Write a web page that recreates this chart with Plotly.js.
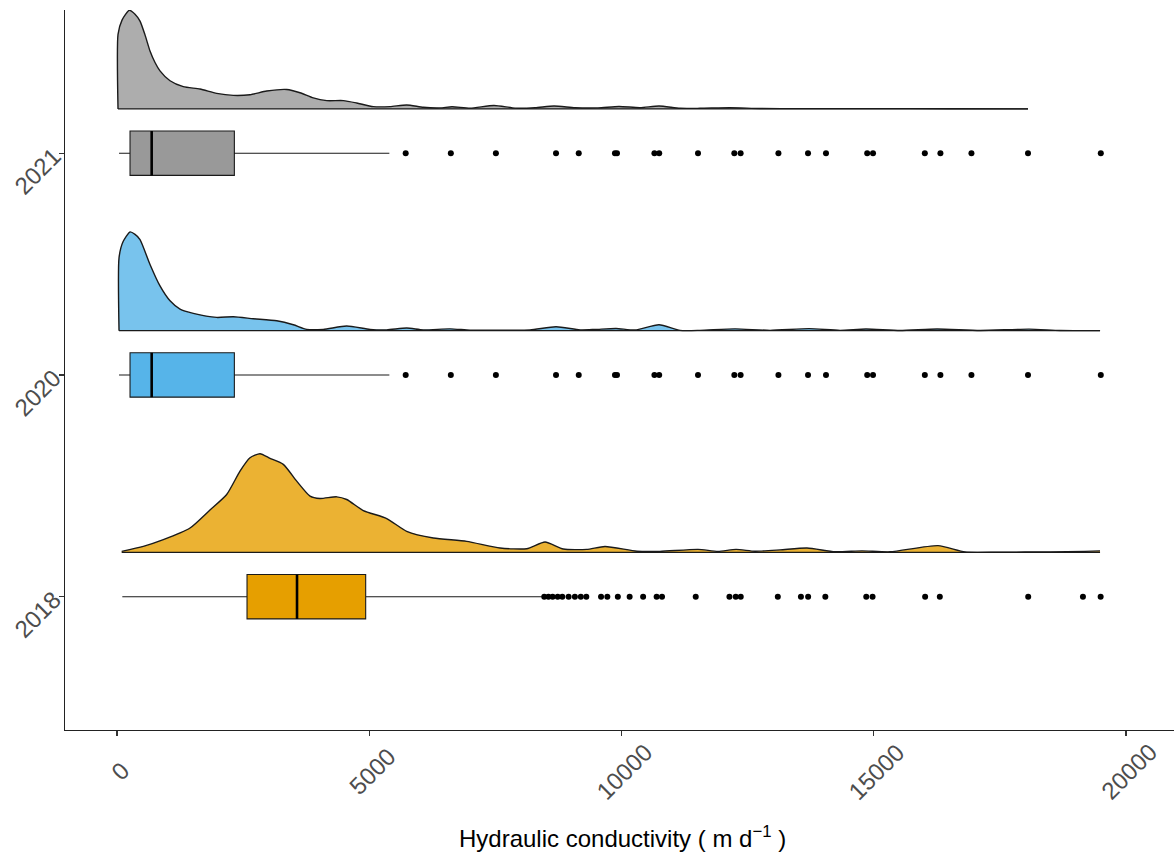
<!DOCTYPE html>
<html>
<head>
<meta charset="utf-8">
<script src="https://cdn.plot.ly/plotly-3.0.1.min.js"></script>
<style>html,body{margin:0;padding:0;background:#fff;}#chart{width:1174px;height:856px;}</style>
</head>
<body>
<div id="chart"></div>
<script>
// ---- Data ----
const groups = ['2018', '2020', '2021'];
const groupPos = [1, 2, 3];

// Density curves (x value, relative density height, peak = 1)
const dens2018X = [93, 521, 918, 1447, 1843, 2174, 2438, 2636, 2835, 3033, 3296, 3562, 3826, 4024, 4355, 4553, 4882, 5346, 5742, 6270, 6931, 7592, 8121, 8484, 8846, 9310, 9673, 10307, 10763, 11516, 11913, 12270, 12646, 13141, 13677, 14232, 14767, 15322, 16274, 16809, 17503, 18494, 19187, 19485];
const dens2018Y = [0.01, 0.061, 0.129, 0.247, 0.43, 0.587, 0.824, 0.959, 1.0, 0.953, 0.892, 0.722, 0.57, 0.546, 0.563, 0.536, 0.424, 0.343, 0.214, 0.146, 0.112, 0.044, 0.037, 0.105, 0.034, 0.03, 0.06, 0.012, 0.01, 0.03, 0.01, 0.03, 0.012, 0.025, 0.044, 0.006, 0.015, 0.006, 0.068, 0.004, 0.003, 0.004, 0.01, 0.015];

const dens2020X = [40, 40, 119, 258, 357, 456, 654, 852, 1051, 1249, 1512, 1976, 2305, 2702, 3166, 3495, 3760, 4089, 4553, 5015, 5346, 5742, 6071, 6601, 6997, 7592, 8186, 8702, 9178, 9475, 9891, 10268, 10743, 11160, 11556, 12250, 12944, 13717, 14331, 14846, 15520, 16254, 17106, 18077, 18692, 19485];
const dens2020Y = [0, 0.738, 0.9, 1.0, 0.975, 0.923, 0.671, 0.453, 0.302, 0.218, 0.175, 0.134, 0.141, 0.121, 0.10, 0.06, 0.013, 0.013, 0.047, 0.013, 0.008, 0.027, 0.008, 0.018, 0.005, 0.004, 0.006, 0.04, 0.008, 0.012, 0.022, 0.006, 0.06, 0.003, 0.003, 0.018, 0.003, 0.02, 0.003, 0.016, 0.002, 0.017, 0.002, 0.015, 0.002, 0.0];

const dens2021X = [20, 20, 99, 244, 357, 456, 555, 654, 753, 852, 1051, 1314, 1645, 1976, 2305, 2636, 2967, 3364, 3627, 3891, 4157, 4486, 4751, 5080, 5411, 5742, 6071, 6402, 6640, 7000, 7473, 7890, 8285, 8662, 9080, 9534, 9950, 10366, 10743, 11160, 11556, 12150, 12745, 13538, 14926, 16511, 18057];
const dens2021Y = [0, 0.755, 0.9, 1.0, 0.96, 0.89, 0.75, 0.587, 0.47, 0.386, 0.285, 0.225, 0.201, 0.157, 0.137, 0.144, 0.181, 0.197, 0.164, 0.111, 0.084, 0.084, 0.06, 0.023, 0.023, 0.04, 0.016, 0.01, 0.022, 0.008, 0.035, 0.008, 0.012, 0.03, 0.012, 0.01, 0.025, 0.012, 0.03, 0.006, 0.006, 0.012, 0.004, 0.003, 0.003, 0.002, 0.0];

// Box statistics: [lower whisker, Q1, median, Q3, upper whisker]
const box2018 = [105, 2577, 3568, 4929, 8418];
const box2020 = [40, 258, 687, 2326, 5398];
const box2021 = [40, 258, 687, 2326, 5398];

// Outliers
const out2018 = [8468, 8551, 8634, 8735, 8826, 8951, 9076, 9193, 9302, 9594, 9719, 9927, 10161, 10428, 10696, 10803, 11471, 12139, 12264, 12363, 13098, 13556, 13699, 14040, 14851, 14976, 16018, 16309, 18061, 19146, 19497];
const out2020 = [5722, 6617, 7510, 8702, 9152, 9870, 9910, 10652, 10747, 11516, 12236, 12361, 13110, 13697, 14053, 14870, 14985, 16012, 16321, 16936, 18057, 19500];
const out2021 = [5722, 6617, 7510, 8702, 9152, 9870, 9910, 10652, 10747, 11516, 12236, 12361, 13110, 13697, 14053, 14870, 14985, 16012, 16321, 16936, 18057, 19500];

const xTickVals = [0, 5000, 10000, 15000, 20000];
const xTickText = ['0', '5000', '10000', '15000', '20000'];
const xTitle = 'Hydraulic conductivity ( m d<sup>\u22121</sup> )';

// ---- Styling ----
const boxColors = ['#E69F00', '#56B4E9', '#999999'];
const densColors = ['#EBB233', '#78C3ED', '#ADADAD'];
const densOffset = 0.2;
const densHeight = 0.445;
const boxWidth = 0.2;

const densX = [dens2018X, dens2020X, dens2021X];
const densY = [dens2018Y, dens2020Y, dens2021Y];
const boxes = [box2018, box2020, box2021];
const outs = [out2018, out2020, out2021];

const traces = [];
for (let i = 0; i < groups.length; i++) {
  const pos = groupPos[i];
  const base = pos + densOffset;
  const dx = densX[i], dy = densY[i];
  traces.push({
    type: 'scatter', mode: 'lines',
    x: [dx[0], dx[dx.length - 1]], y: [base, base],
    line: {color: '#1a1a1a', width: 1.4},
    hoverinfo: 'skip', showlegend: false
  });
  traces.push({
    type: 'scatter', mode: 'lines', x: dx, y: dy.map(v => base + v * densHeight),
    fill: 'tonexty', fillcolor: densColors[i],
    line: {color: '#1a1a1a', width: 1.4, shape: 'spline', smoothing: 0.6},
    hoverinfo: 'skip', showlegend: false
  });
  const b = boxes[i];
  traces.push({
    type: 'box', orientation: 'h',
    y: [pos], lowerfence: [b[0]], q1: [b[1]], median: [b[2]], q3: [b[3]], upperfence: [b[4]],
    width: boxWidth, fillcolor: boxColors[i],
    line: {color: '#1a1a1a', width: 1.1},
    whiskerwidth: 0, boxpoints: false,
    hoverinfo: 'skip', showlegend: false
  });
  traces.push({
    type: 'scatter', mode: 'lines',
    x: [b[2], b[2]], y: [pos - boxWidth / 2, pos + boxWidth / 2],
    line: {color: '#000', width: 2.6},
    hoverinfo: 'skip', showlegend: false
  });
  traces.push({
    type: 'scatter', mode: 'markers',
    x: outs[i], y: outs[i].map(() => pos),
    marker: {color: '#000', size: 6},
    hoverinfo: 'skip', showlegend: false
  });
}

// x tick labels centred on their ticks, rotated 45 degrees
const annotations = xTickVals.map((v, k) => ({
  x: v, xref: 'x', y: -0.058, yref: 'paper',
  text: xTickText[k], showarrow: false, textangle: -45,
  xanchor: 'center', yanchor: 'middle', xshift: 3,
  font: {size: 24, color: '#4D4D4D', family: 'Liberation Sans, Arial, sans-serif'}
}));
annotations.push({
  x: 0.503, xref: 'paper', y: -0.149, yref: 'paper',
  text: xTitle, showarrow: false, xanchor: 'center', yanchor: 'middle',
  font: {size: 24, color: '#000', family: 'Liberation Sans, Arial, sans-serif'}
});

const layout = {
  width: 1174, height: 856,
  margin: {l: 65, r: 0, t: 10, b: 126},
  paper_bgcolor: '#fff', plot_bgcolor: '#fff',
  showlegend: false,
  font: {family: 'Liberation Sans, Arial, sans-serif', color: '#000'},
  xaxis: {
    range: [-1031, 20951], showgrid: false, zeroline: false,
    showline: true, linecolor: '#222', linewidth: 1.2,
    ticks: 'outside', ticklen: 5, tickcolor: '#333', tickwidth: 1.1,
    tickvals: xTickVals, showticklabels: false
  },
  yaxis: {
    range: [0.399, 3.646], showgrid: false, zeroline: false,
    showline: true, linecolor: '#222', linewidth: 1.2,
    ticks: 'outside', ticklen: 5, tickcolor: '#333', tickwidth: 1.1,
    tickvals: groupPos, ticktext: groups, tickangle: -45,
    tickfont: {size: 24, color: '#4D4D4D'}
  },
  annotations: annotations
};

Plotly.newPlot('chart', traces, layout, {staticPlot: true, displayModeBar: false});
</script>
</body>
</html>
